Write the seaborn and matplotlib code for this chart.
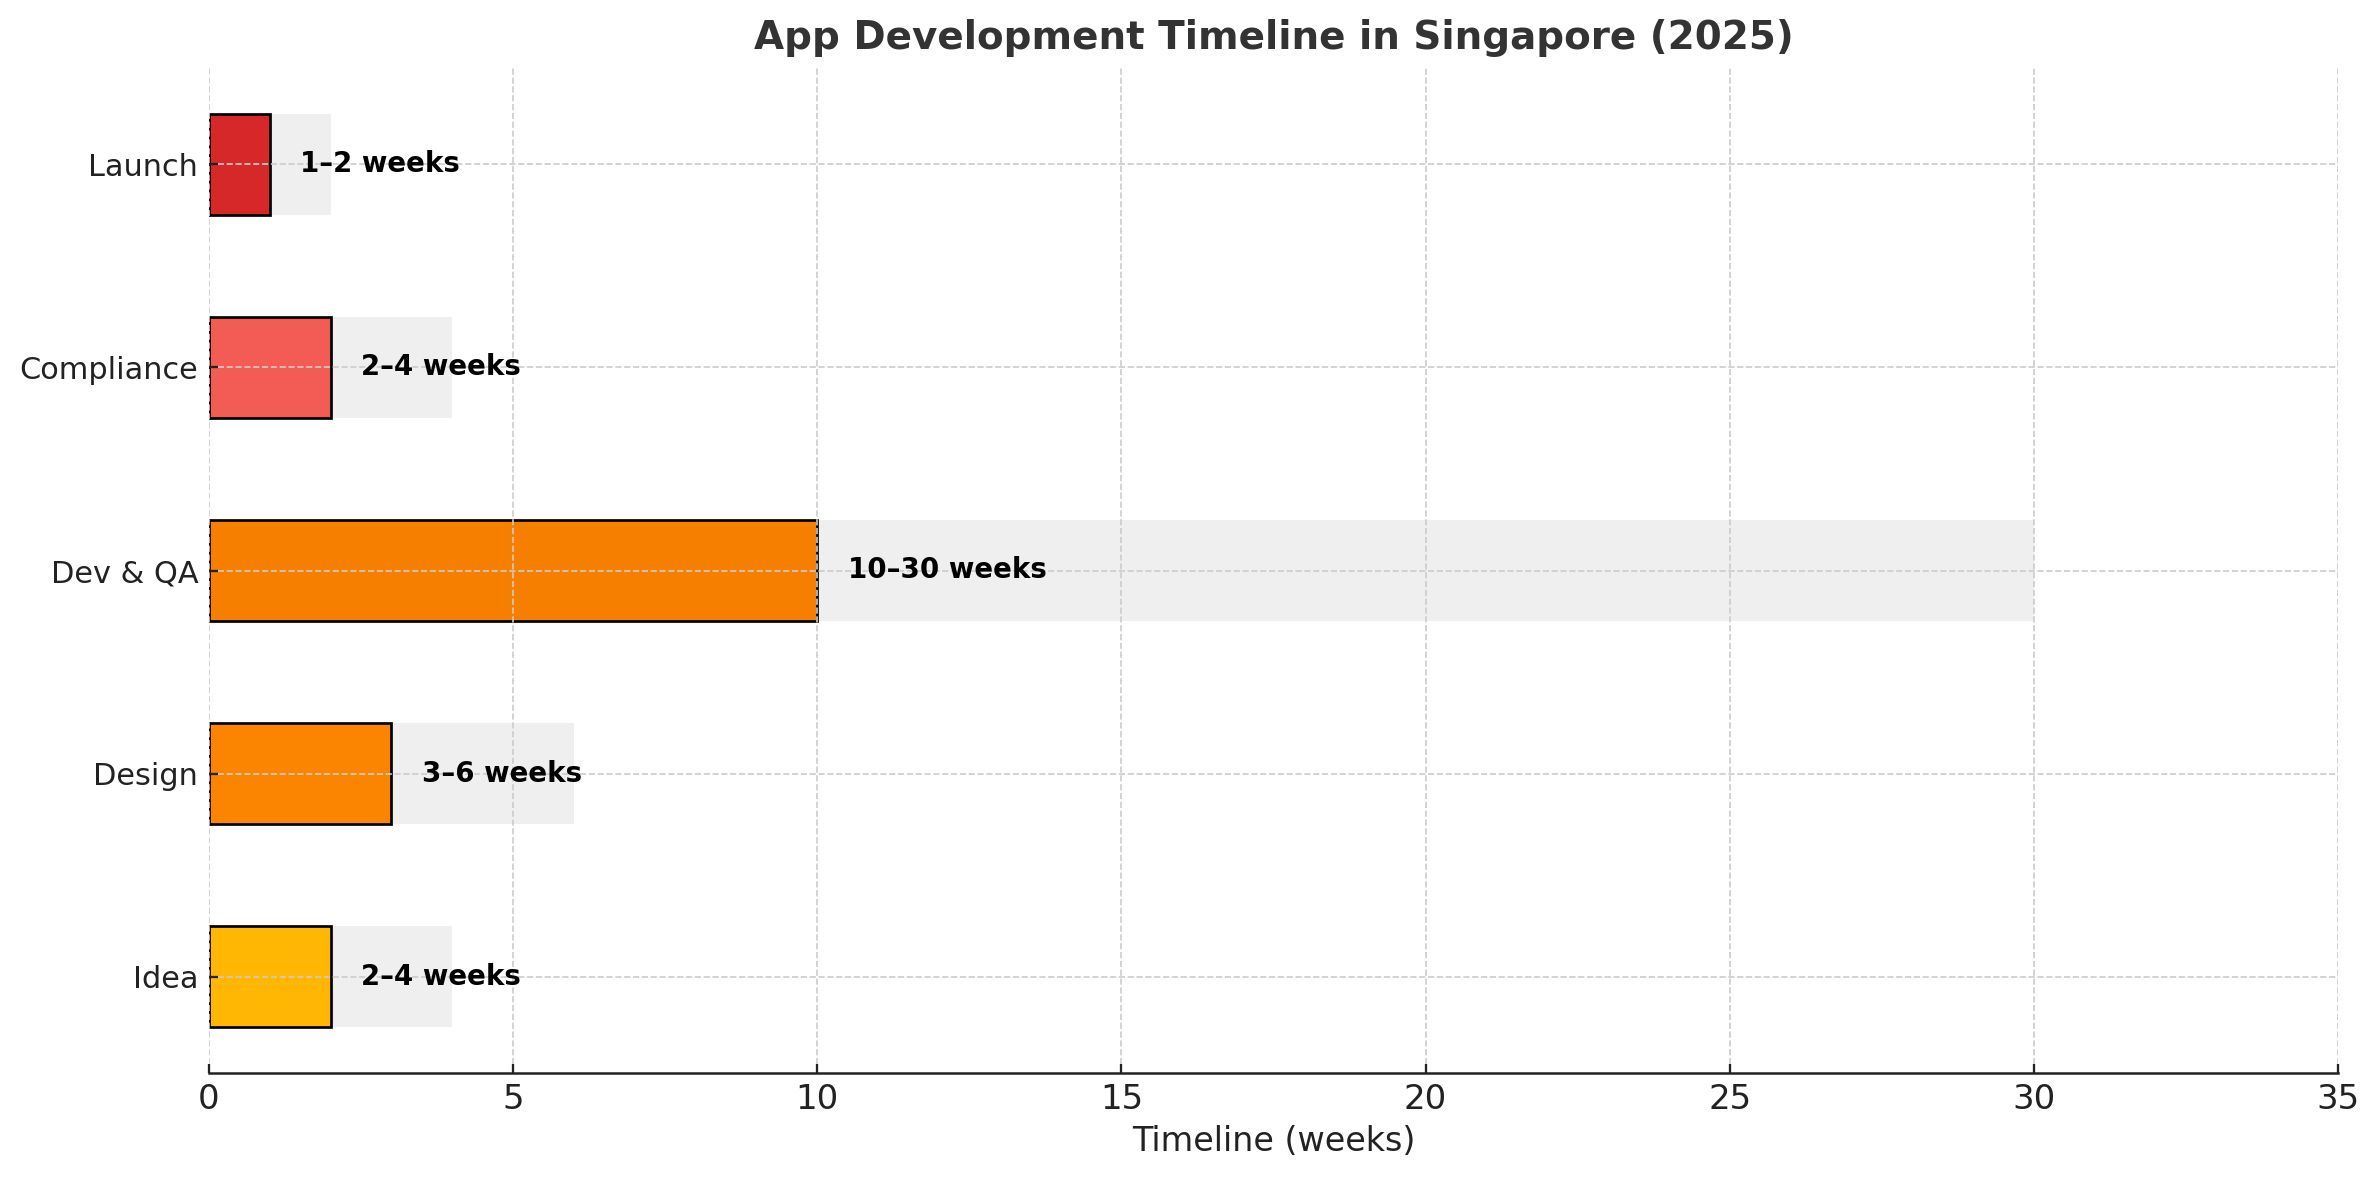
import matplotlib
matplotlib.use("Agg")
import matplotlib.pyplot as plt
import seaborn as sns
import pandas as pd

phases = ["Launch", "Compliance", "Dev & QA", "Design", "Idea"]
min_weeks = [1, 2, 10, 3, 2]
max_weeks = [2, 4, 30, 6, 4]
range_labels = ["1–2 weeks", "2–4 weeks", "10–30 weeks", "3–6 weeks", "2–4 weeks"]
colors = ["#D62828", "#F25C54", "#F77F00", "#FB8500", "#FFB703"]

df = pd.DataFrame({"phase": phases, "min": min_weeks, "max": max_weeks, "label": range_labels})

sns.set_theme(style="white")
plt.rcParams['font.family'] = ['DejaVu Sans']

W, H = 2379, 1180
fig = plt.figure(figsize=(W / 150, H / 150), dpi=150)
ax = fig.add_axes([209 / W, 1 - 1073 / H, (2338 - 209) / W, (1073 - 68) / H])

sns.barplot(data=df, x="max", y="phase", order=phases, color="#EFEFEF",
            width=0.5, ax=ax, saturation=1, linewidth=0, zorder=1)
sns.barplot(data=df, x="min", y="phase", order=phases, hue="phase", hue_order=phases,
            palette=colors, width=0.5, ax=ax, saturation=1, legend=False,
            edgecolor="black", linewidth=1.3, zorder=2)

for i, row in df.iterrows():
    ax.text(row["min"] + 0.5, i, row["label"], va="center", ha="left",
            fontsize=13.25, fontweight="bold", color="black", zorder=4)

ax.set_xlim(0, 35)
ax.set_ylim(4.475, -0.475)
ax.set_xticks(range(0, 36, 5))
ax.grid(True, linestyle="--", color="#CCCCCC", linewidth=0.8)
ax.set_axisbelow(False)
for gl in ax.get_xgridlines() + ax.get_ygridlines():
    gl.set_zorder(3)

sns.despine(ax=ax, left=True)
ax.spines["bottom"].set_color("#222222")
ax.spines["bottom"].set_linewidth(1.2)
ax.tick_params(axis="both", colors="#222222", direction="in", length=4.5, width=1.1,
               bottom=True, left=True)
ax.tick_params(axis="x", labelsize=16.3, pad=4.8)
ax.tick_params(axis="y", labelsize=14.6, pad=5.2)
ax.set_xlabel("Timeline (weeks)", fontsize=16, color="#222222", labelpad=4.5)
ax.set_ylabel("")
ax.set_title("App Development Timeline in Singapore (2025)", fontsize=18.7,
             fontweight="bold", color="#333333", pad=9)

fig.savefig("out.png", dpi=150)
